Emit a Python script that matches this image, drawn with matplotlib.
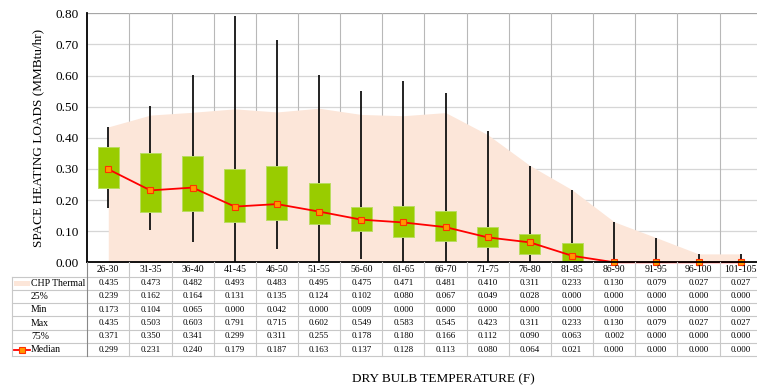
import matplotlib
matplotlib.use("Agg")
import matplotlib.pyplot as plt
from matplotlib.transforms import blended_transform_factory
from matplotlib.lines import Line2D
from matplotlib.patches import Rectangle
import numpy as np

plt.rcParams['font.family'] = ['Liberation Serif', 'DejaVu Serif']

categories = ['26-30', '31-35', '36-40', '41-45', '46-50', '51-55', '56-60', '61-65',
              '66-70', '71-75', '76-80', '81-85', '86-90', '91-95', '96-100', '101-105']
chp_thermal = [0.435, 0.473, 0.482, 0.493, 0.483, 0.495, 0.475, 0.471,
               0.481, 0.410, 0.311, 0.233, 0.130, 0.079, 0.027, 0.027]
p25 = [0.239, 0.162, 0.164, 0.131, 0.135, 0.124, 0.102, 0.080,
       0.067, 0.049, 0.028, 0.000, 0.000, 0.000, 0.000, 0.000]
vmin = [0.173, 0.104, 0.065, 0.000, 0.042, 0.000, 0.009, 0.000,
        0.000, 0.000, 0.000, 0.000, 0.000, 0.000, 0.000, 0.000]
vmax = [0.435, 0.503, 0.603, 0.791, 0.715, 0.602, 0.549, 0.583,
        0.545, 0.423, 0.311, 0.233, 0.130, 0.079, 0.027, 0.027]
p75 = [0.371, 0.350, 0.341, 0.299, 0.311, 0.255, 0.178, 0.180,
       0.166, 0.112, 0.090, 0.063, 0.002, 0.000, 0.000, 0.000]
median = [0.299, 0.231, 0.240, 0.179, 0.187, 0.163, 0.137, 0.128,
          0.113, 0.080, 0.064, 0.021, 0.000, 0.000, 0.000, 0.000]
yticks = [0.0, 0.1, 0.2, 0.3, 0.4, 0.5, 0.6, 0.7, 0.8]

W, H = 757, 386
fig = plt.figure(figsize=(W / 100, H / 100), dpi=100)

def fy(py):
    return 1 - py / H

def fx(px):
    return px / W

ax_left, ax_right, ax_top, ax_bot = 87.2, 761.8, 13.3, 262.3
ax = fig.add_axes([fx(ax_left), fy(ax_bot), fx(ax_right - ax_left), (ax_bot - ax_top) / H])

n = len(categories)
x = np.arange(n)
ax.set_xlim(-0.5, n - 0.5)
ax.set_ylim(0, 0.8)

# grid
for yv in yticks[1:]:
    ax.axhline(yv, color='#A6A6A6' if yv == 0.8 else '#D6D6D6', lw=0.9, zorder=0)
for b in np.arange(0.5, n - 0.5, 1.0):
    ax.axvline(b, color='#B8B8B8', lw=0.8, zorder=0)

# CHP thermal area
area_color = '#FCE6D9'
ax.fill_between(x, 0, chp_thermal, color=area_color, lw=0, zorder=1)

# whiskers
ax.vlines(x, vmin, vmax, color='#111111', lw=1.3, zorder=2)

# boxes
box_w = 0.5
ax.bar(x, np.array(p75) - np.array(p25), bottom=p25, width=box_w,
       color='#99CC00', edgecolor='#B9DD60', lw=0.7, zorder=3)

# median line
marker_kw = dict(marker='s', markersize=5, markerfacecolor='#FF9900',
                 markeredgecolor='#FF3300', markeredgewidth=0.8)
ax.plot(x, median, color='#FF0000', lw=1.3, zorder=4, clip_on=False, **marker_kw)

ax.set_yticks(yticks)
ax.set_yticklabels([f'{v:.2f}' for v in yticks], fontsize=9.5)
ax.tick_params(axis='y', length=0, pad=6)
ax.set_xticks([])
for s in ['top', 'right']:
    ax.spines[s].set_visible(False)
for s in ['left', 'bottom']:
    ax.spines[s].set_color('black')
    ax.spines[s].set_linewidth(1.3)
    ax.spines[s].set_zorder(5)

ax.set_ylabel('SPACE HEATING LOADS (MMBtu/hr)', fontsize=9.5, labelpad=8)

# data table under the axes
tr = blended_transform_factory(ax.transData, fig.transFigure)
grid_c = '#C8C8C8'
tbl_left = 12
row_lines = [276.5, 289.8, 303.1, 316.4, 329.7, 343.0, 356.3]
header_y = 269.5
row_names = ['CHP Thermal', '25%', 'Min', 'Max', '75%', 'Median']
row_data = [chp_thermal, p25, vmin, vmax, p75, median]

for ly in row_lines:
    fig.add_artist(Line2D([fx(tbl_left), 1], [fy(ly), fy(ly)], color=grid_c, lw=0.8))
fig.add_artist(Line2D([fx(tbl_left), fx(tbl_left)], [fy(row_lines[0]), fy(row_lines[-1])],
                      color=grid_c, lw=0.8))
for b in np.arange(-0.5, n + 0.5, 1.0):
    fig.add_artist(Line2D([b, b], [fy(ax_bot), fy(row_lines[-1])],
                          color='#888888' if b < 0 else grid_c, lw=0.8, transform=tr))

for i, c in enumerate(categories):
    fig.text(i, fy(header_y), c, transform=tr, ha='center', va='center', fontsize=7)

for r, (name, vals) in enumerate(zip(row_names, row_data)):
    cy = (row_lines[r] + row_lines[r + 1]) / 2
    fig.text(fx(31), fy(cy), name, ha='left', va='center', fontsize=7)
    for i, v in enumerate(vals):
        fig.text(i, fy(cy), f'{v:.3f}', transform=tr, ha='center', va='center', fontsize=6.5)

# legend keys in the row-label column
cy0 = (row_lines[0] + row_lines[1]) / 2
fig.add_artist(Rectangle((fx(13.5), fy(cy0 + 2.5)), fx(16.5), 5 / H, color=area_color, lw=0))
cy5 = (row_lines[5] + row_lines[6]) / 2
fig.add_artist(Line2D([fx(13.5), fx(30)], [fy(cy5), fy(cy5)], color='#FF0000', lw=1.3))
fig.add_artist(Line2D([fx(22)], [fy(cy5)], **marker_kw))

fig.text(fx(443), fy(379), 'DRY BULB TEMPERATURE (F)', ha='center', va='center', fontsize=9.5)

fig.savefig('out.png', dpi=100)
